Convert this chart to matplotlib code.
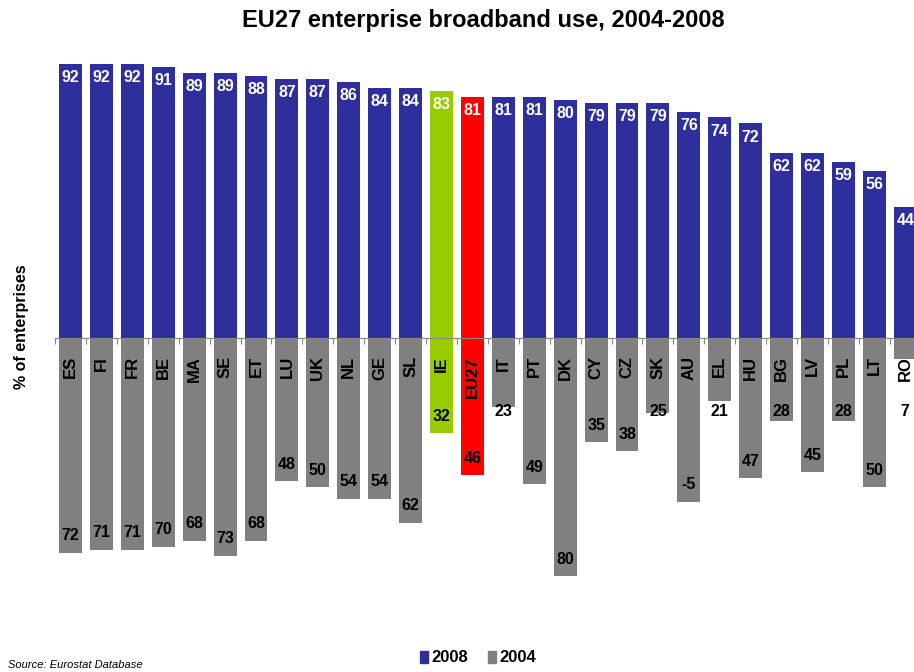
"""
EU27 enterprise broadband use, 2004 vs 2008, as a mirrored bar chart.
"""

import numpy as np
from matplotlib import pyplot as plt
from matplotlib.patches import Patch

countries = ['ES', 'FI', 'FR', 'BE', 'MA', 'SE', 'ET', 'LU', 'UK', 'NL', 'GE', 'SL', 'IE', 'EU27',
             'IT', 'PT', 'DK', 'CY', 'CZ', 'SK', 'AU', 'EL', 'HU', 'BG', 'LV', 'PL', 'LT', 'RO']
use_2008 = [92, 92, 92, 91, 89, 89, 88, 87, 87, 86, 84, 84, 83, 81,
            81, 81, 80, 79, 79, 79, 76, 74, 72, 62, 62, 59, 56, 44]
use_2004 = [72, 71, 71, 70, 68, 73, 68, 48, 50, 54, 54, 62, 32, 46,
            23, 49, 80, 35, 38, 25, 55, 21, 47, 28, 45, 28, 50, 7]
# printed labels for 2004 (the AU label in the source reads -5)
labels_2004 = ['72', '71', '71', '70', '68', '73', '68', '48', '50', '54', '54', '62', '32', '46',
               '23', '49', '80', '35', '38', '25', '-5', '21', '47', '28', '45', '28', '50', '7']

BLUE = '#2e2e9c'
GREY = '#808080'
highlight = {'IE': '#99cc00', 'EU27': '#ff0000'}
FONT = ['Liberation Sans', 'DejaVu Sans']

fig = plt.figure(figsize=(9.14, 6.72), dpi=100)
ax = fig.add_axes([55 / 914, 36 / 672, 28 * 30.92 / 914, 596 / 672])

x = np.arange(len(countries))
col_up = [highlight.get(c, BLUE) for c in countries]
col_dn = [highlight.get(c, GREY) for c in countries]
ax.bar(x, use_2008, width=0.74, color=col_up, zorder=2)
ax.bar(x, [-v for v in use_2004], width=0.74, color=col_dn, zorder=2)

for i, c in enumerate(countries):
    # 2008 value inside the top of the bar
    ax.text(i, use_2008[i] - 4.6, str(use_2008[i]), ha='center', va='center', color='white',
            fontsize=11.5, fontweight='bold', family=FONT, zorder=3)
    # country code just under the axis
    ax.text(i, -6, c, ha='center', va='top', rotation=90, color='black',
            fontsize=12, fontweight='bold', family=FONT, zorder=3)
    # 2004 value near the bottom end, kept clear of the country code
    y = -max(use_2004[i] - 5.7, 24.5)
    ax.text(i, y, labels_2004[i], ha='center', va='center', color='black',
            fontsize=11.5, fontweight='bold', family=FONT, zorder=3)

ax.set_xlim(-0.5, len(countries) - 0.5)
ax.set_ylim(-100, 100)
for s in ['top', 'right', 'left']:
    ax.spines[s].set_visible(False)
ax.spines['bottom'].set_position(('data', 0))
ax.spines['bottom'].set_color('#888888')
ax.spines['bottom'].set_zorder(4)
ax.set_xticks(np.arange(-0.5, len(countries), 1))
ax.set_xticklabels([])
ax.tick_params(axis='x', length=4, color='#888888', direction='out')
ax.set_yticks([])

fig.text(22 / 914, 1 - 327 / 672, '% of enterprises', rotation=90, ha='center', va='center',
         fontsize=11.5, fontweight='bold', family=FONT)
fig.text(483 / 914, 1 - 20 / 672, 'EU27 enterprise broadband use, 2004-2008', ha='center', va='center',
         fontsize=17, fontweight='bold', family=FONT)
fig.text(8 / 914, 1 - 665 / 672, 'Source: Eurostat Database', ha='left', va='center',
         fontsize=8, style='italic', family=FONT)

handles = [Patch(color=BLUE, label='2008'), Patch(color=GREY, label='2004')]
fig.legend(handles=handles, loc='center', bbox_to_anchor=(478 / 914, 1 - 658 / 672), ncol=2,
           frameon=False, handlelength=0.5, handleheight=0.7, handletextpad=0.2, columnspacing=1.2,
           prop={'family': FONT, 'weight': 'bold', 'size': 12})

plt.savefig('out.png', dpi=100)
